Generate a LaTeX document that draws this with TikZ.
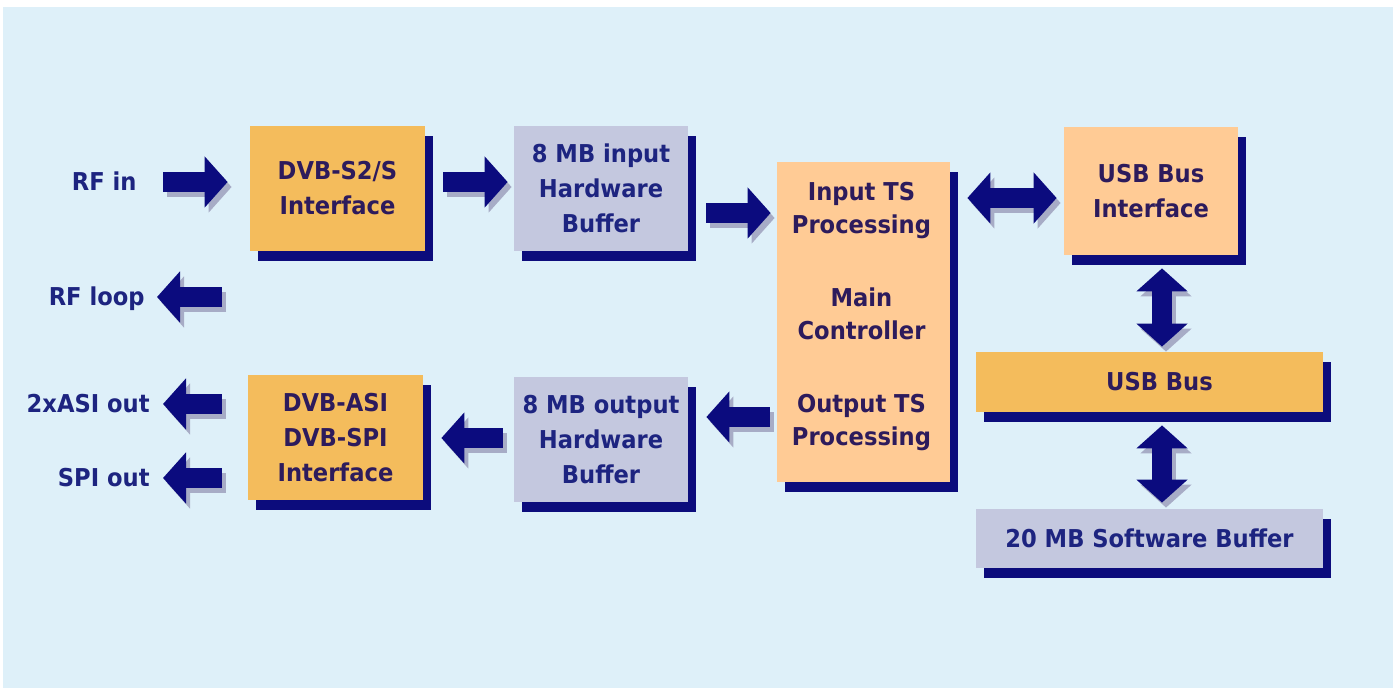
\documentclass[tikz,border=0pt]{standalone}
\usepackage{fontspec}
\setmainfont{DejaVu Sans}[FakeStretch=0.92]
\usetikzlibrary{arrows.meta,shadows,calc}
\definecolor{bgc}{HTML}{DEF0F9}
\definecolor{gold}{HTML}{F4BC5C}
\definecolor{peach}{HTML}{FFCB95}
\definecolor{greyb}{HTML}{C4C8DF}
\definecolor{boxsh}{HTML}{0C0C7C}
\definecolor{arrc}{HTML}{0B0B7E}
\definecolor{arrshc}{HTML}{A7ACC6}
\definecolor{txtA}{HTML}{2D1B5C}
\definecolor{txtB}{HTML}{1D2480}
\tikzset{
  Blk/.tip={Triangle[length=11.5pt,width=25pt]},
  box/.style={rectangle, inner sep=0pt, align=center,
    general shadow={fill=boxsh, shadow xshift=4pt, shadow yshift=-5pt}},
  goldbox/.style={box, fill=gold, text=txtA},
  peachbox/.style={box, fill=peach, text=txtA},
  greybox/.style={box, fill=greyb, text=txtB},
  lbl/.style={inner sep=0pt, text height=9pt, text depth=0pt, text=txtB, anchor=east},
  arr/.style={draw=arrc, line width=10pt},
  arrsh/.style={draw=arrshc, line width=10pt, transform canvas={shift={(2pt,-2.5pt)}}},
}
\newcommand\blockarrow[3]{%
  \draw[arrsh,#1] #2 -- #3;
  \draw[arr,#1] #2 -- #3;}
\begin{document}
\begin{tikzpicture}[x=0.5pt,y=-0.5pt,font=\fontsize{12.3}{17.5}\selectfont\bfseries]
\useasboundingbox (0,0) rectangle (1396,688);
\fill[white] (0,0) rectangle (1396,688);
\fill[bgc] (3,7) rectangle (1393,688);

% boxes
\node[goldbox, minimum width=87.5pt, minimum height=62.5pt] (dvbs) at (337.5,188.5) {DVB-S2/S\\Interface};
\node[greybox, minimum width=87pt, minimum height=62.5pt] (inbuf) at (601,188.5) {8 MB input\\Hardware\\Buffer};
\node[peachbox, minimum width=86.5pt, minimum height=160pt] (main) at (863.5,322) {};
\node[inner sep=0pt, align=center, text=txtA, font=\fontsize{12.3}{16.5}\selectfont\bfseries] (maintxt) at ($(main.center)+(-2,-5)$)
  {Input TS\\Processing\\[20pt]Main\\Controller\\[20pt]Output TS\\Processing};
\node[peachbox, minimum width=87pt, minimum height=64pt] (usbif) at (1151,191) {USB Bus\\Interface};
\node[goldbox, minimum width=173.5pt, minimum height=30pt] (usbbus) at (1149.5,382) {\hspace*{10pt}USB Bus};
\node[greybox, minimum width=173.5pt, minimum height=29.5pt] (swbuf) at (1149.5,538.5) {20 MB Software Buffer};
\node[goldbox, minimum width=87.5pt, minimum height=62.5pt] (dvbasi) at (335.5,437.5) {DVB-ASI\\DVB-SPI\\Interface};
\node[greybox, minimum width=87pt, minimum height=62.5pt] (outbuf) at (601,439.5) {8 MB output\\Hardware\\Buffer};

% labels
\node[lbl] (rfin) at (137,182) {RF in};
\node[lbl] (rfloop) at (145,297) {RF loop};
\node[lbl] (asiout) at (150,404) {2xASI out};
\node[lbl] (spiout) at (150,478) {SPI out};
\coordinate (loopsrc) at (222,297);

% arrows
\blockarrow{-{Blk}, shorten <=13pt, shorten >=11pt}{(rfin.east)}{(rfin.east -| dvbs.west)}
\blockarrow{-{Blk}, shorten <=9pt, shorten >=3pt}{($(dvbs.east)+(0,-6.5)$)}{($(inbuf.west)+(0,-6.5)$)}
\blockarrow{-{Blk}, shorten <=9pt, shorten >=3pt}{($(inbuf.east)+(0,24.5)$)}{($(inbuf.east -| main.west)+(0,24.5)$)}
\blockarrow{{Blk}-{Blk}, shorten <=8.5pt, shorten >=3.5pt}{($(usbif.west -| main.east)+(0,7)$)}{($(usbif.west)+(0,7)$)}
\blockarrow{{Blk}-{Blk}, shorten <=6.5pt, shorten >=2.5pt}{($(usbif.south)+(11,0)$)}{($(usbif.south |- usbbus.north)+(11,0)$)}
\blockarrow{{Blk}-{Blk}, shorten <=6.5pt, shorten >=3pt}{($(usbbus.south)+(12.5,0)$)}{($(usbbus.south |- swbuf.north)+(12.5,0)$)}
\blockarrow{-{Blk}, shorten <=3.5pt, shorten >=9pt}{($(outbuf.east -| main.west)+(0,-22.5)$)}{($(outbuf.east)+(0,-22.5)$)}
\blockarrow{-{Blk}, shorten <=5.5pt, shorten >=9pt}{($(outbuf.west)+(0,-1.5)$)}{($(outbuf.west -| dvbasi.east)+(0,-1.5)$)}
\blockarrow{-{Blk}, shorten <=13pt, shorten >=6.5pt}{(asiout.east -| dvbasi.west)}{(asiout.east)}
\blockarrow{-{Blk}, shorten <=13pt, shorten >=6.5pt}{(spiout.east -| dvbasi.west)}{(spiout.east)}
\blockarrow{-{Blk}, shorten >=6pt}{(loopsrc)}{(rfloop.east)}
\end{tikzpicture}
\end{document}
